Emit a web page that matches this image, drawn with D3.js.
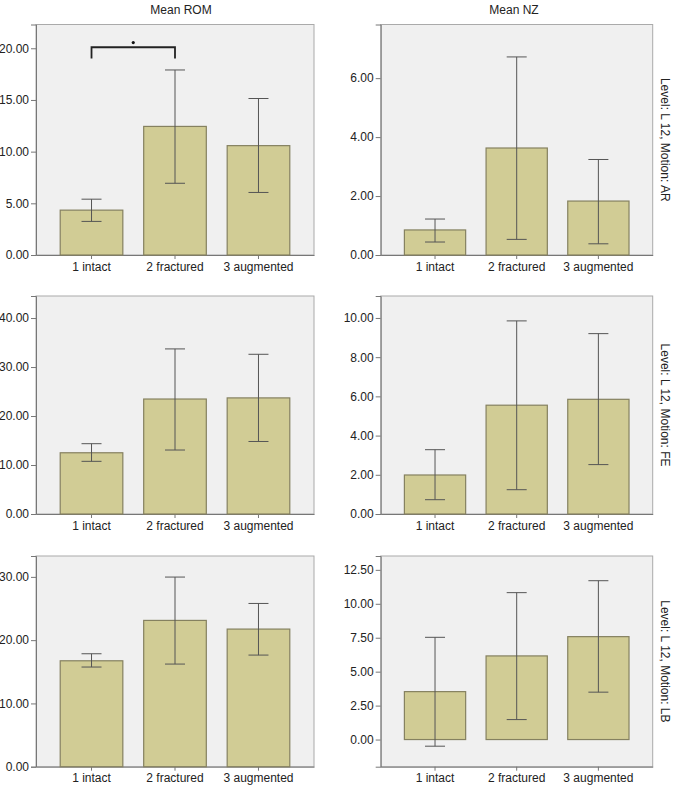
<!DOCTYPE html>
<html>
<head>
<meta charset="utf-8">
<script src="https://cdn.jsdelivr.net/npm/d3@7"></script>
<style>
  body { margin: 0; background: #fff; }
  svg { display: block; font-family: "Liberation Sans", Arial, sans-serif; }
</style>
</head>
<body>
<svg id="chart" width="678" height="789"></svg>
<script>
var width = 678, height = 789;

var categories = ["1 intact", "2 fractured", "3 augmented"];
var motions = ["AR", "FE", "LB"];

// Mean ROM per motion (rows) and group
var romMean = [[4.34, 12.44, 10.58], [12.5, 23.47, 23.7], [16.74, 23.12, 21.75]];
var romLow  = [[3.25, 6.94, 6.05], [10.75, 13.06, 14.8], [15.75, 16.22, 17.64]];
var romHigh = [[5.4, 17.9, 15.14], [14.35, 33.7, 32.6], [17.85, 29.97, 25.8]];

// Mean NZ
var nzMean = [[0.85, 3.63, 1.83], [1.99, 5.55, 5.85], [3.53, 6.16, 7.58]];
var nzLow  = [[0.44, 0.53, 0.38], [0.73, 1.24, 2.52], [-0.49, 1.47, 3.49]];
var nzHigh = [[1.22, 6.72, 3.24], [3.28, 9.85, 9.2], [7.53, 10.82, 11.7]];

var romTicks = [[0, 5, 10, 15, 20], [0, 10, 20, 30, 40], [0, 10, 20, 30]];
var nzTicks = [[0, 2, 4, 6], [0, 2, 4, 6, 8, 10], [0, 2.5, 5, 7.5, 10, 12.5]];
var romDomain = [[0, 22.3], [0, 44.5], [0, 33.3]];
var nzDomain = [[0, 7.82], [0, 11.12], [-2.0, 13.52]];

// significance bracket on ROM / AR: between groups 0 and 1
var bracket = { from: 0, to: 1, y: 20.1, leg: 19.0, dot: 20.55 };

var colX = [[36, 314], [380.7, 652.7]];
var rowY = [[24.5, 255], [296, 514], [556, 766.7]];

var svg = d3.select("#chart");

function drawPanel(col, row, means, lows, highs, ticks, domain) {
    var x0 = colX[col][0], x1 = colX[col][1];
    var y0 = rowY[row][0], y1 = rowY[row][1];

    var x = d3.scaleBand().domain(categories).range([x0, x1])
        .paddingInner(0.25).paddingOuter(0.29);
    var y = d3.scaleLinear().domain(domain).range([y1, y0]);

    var g = svg.append("g");

    g.append("rect")
        .attr("x", x0).attr("y", y0)
        .attr("width", x1 - x0).attr("height", y1 - y0)
        .attr("fill", "#f0f0f0")
        .attr("stroke", "#aaa")
        .attr("stroke-width", 1);

    var yAxis = g.append("g")
        .attr("transform", "translate(" + x0 + ",0)")
        .call(d3.axisLeft(y).tickValues(ticks).tickFormat(d3.format(".2f")).tickSize(5).tickPadding(2));
    yAxis.select(".domain").attr("stroke", "#777");
    yAxis.selectAll(".tick line").attr("stroke", "#777");
    yAxis.selectAll(".tick text").attr("font-size", 12).attr("fill", "#222")
        .attr("font-family", "Liberation Sans, Arial, sans-serif");

    var xAxis = g.append("g")
        .attr("transform", "translate(0," + y1 + ")")
        .call(d3.axisBottom(x).tickSize(4).tickPadding(3).tickSizeOuter(0));
    xAxis.select(".domain").attr("stroke", "#777");
    xAxis.selectAll(".tick line").attr("stroke", "#777");
    xAxis.selectAll(".tick text").attr("font-size", 12).attr("fill", "#222")
        .attr("font-family", "Liberation Sans, Arial, sans-serif");

    var rows = categories.map(function (c, i) {
        return { cat: c, mean: means[i], low: lows[i], high: highs[i] };
    });

    g.selectAll("rect.bar")
        .data(rows)
        .enter()
        .append("rect")
        .attr("class", "bar")
        .attr("x", d => x(d.cat))
        .attr("width", x.bandwidth())
        .attr("y", d => y(Math.max(0, d.mean)))
        .attr("height", d => Math.abs(y(d.mean) - y(0)))
        .attr("fill", "#d1cc95")
        .attr("stroke", "#858160")
        .attr("stroke-width", 1.2);

    var cap = 10;
    var err = g.selectAll("g.err").data(rows).enter().append("g").attr("class", "err")
        .attr("stroke", "#555").attr("stroke-width", 1);
    err.append("line")
        .attr("x1", d => x(d.cat) + x.bandwidth() / 2)
        .attr("x2", d => x(d.cat) + x.bandwidth() / 2)
        .attr("y1", d => y(d.low)).attr("y2", d => y(d.high));
    err.append("line")
        .attr("x1", d => x(d.cat) + x.bandwidth() / 2 - cap)
        .attr("x2", d => x(d.cat) + x.bandwidth() / 2 + cap)
        .attr("y1", d => y(d.high)).attr("y2", d => y(d.high));
    err.append("line")
        .attr("x1", d => x(d.cat) + x.bandwidth() / 2 - cap)
        .attr("x2", d => x(d.cat) + x.bandwidth() / 2 + cap)
        .attr("y1", d => y(d.low)).attr("y2", d => y(d.low));

    return { x: x, y: y, g: g };
}

for (var r = 0; r < 3; r++) {
    var p = drawPanel(0, r, romMean[r], romLow[r], romHigh[r], romTicks[r], romDomain[r]);
    if (r === 0) {
        var bx0 = p.x(categories[bracket.from]) + p.x.bandwidth() / 2;
        var bx1 = p.x(categories[bracket.to]) + p.x.bandwidth() / 2;
        p.g.append("path")
            .attr("d", "M" + bx0 + "," + p.y(bracket.leg) + "V" + p.y(bracket.y) +
                "H" + bx1 + "V" + p.y(bracket.leg))
            .attr("fill", "none").attr("stroke", "#222").attr("stroke-width", 1.8);
        p.g.append("circle")
            .attr("cx", (bx0 + bx1) / 2).attr("cy", p.y(bracket.dot))
            .attr("r", 1.6).attr("fill", "#111");
    }
    drawPanel(1, r, nzMean[r], nzLow[r], nzHigh[r], nzTicks[r], nzDomain[r]);

    svg.append("text")
        .attr("transform", "translate(665," + (rowY[r][0] + rowY[r][1]) / 2 + ") rotate(90)")
        .attr("text-anchor", "middle")
        .attr("dominant-baseline", "central")
        .attr("font-size", 12)
        .attr("fill", "#222")
        .text("Level: L 12, Motion: " + motions[r]);
}

svg.append("text").attr("x", 181).attr("y", 14).attr("text-anchor", "middle")
    .attr("font-size", 12).attr("fill", "#222").text("Mean ROM");
svg.append("text").attr("x", 514).attr("y", 14).attr("text-anchor", "middle")
    .attr("font-size", 12).attr("fill", "#222").text("Mean NZ");
</script>
</body>
</html>
